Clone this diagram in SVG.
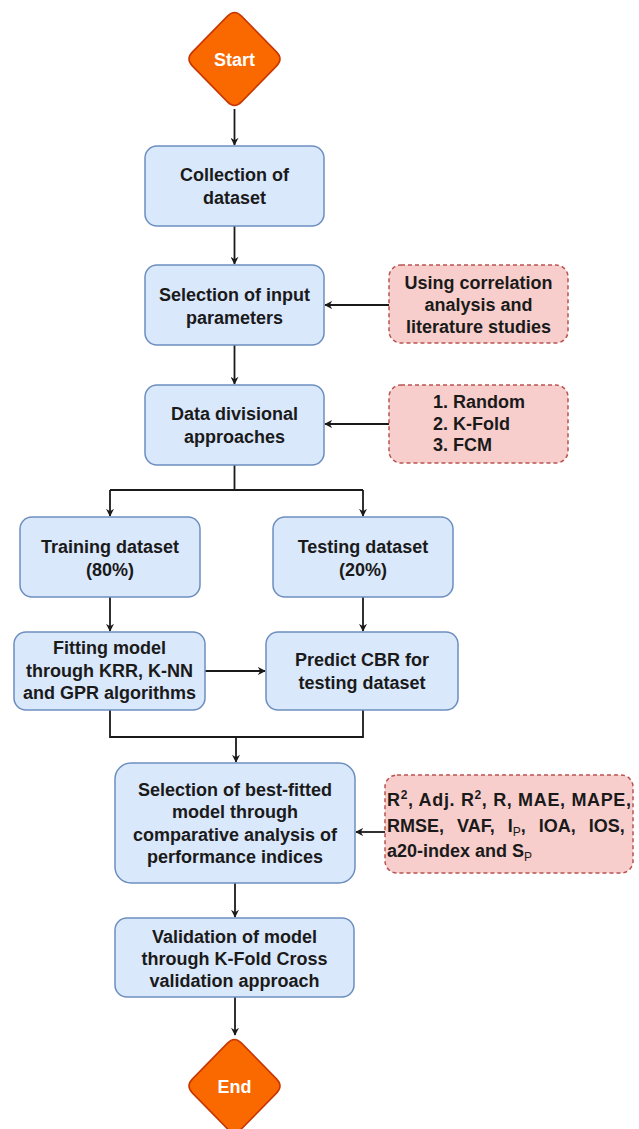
<svg xmlns="http://www.w3.org/2000/svg" width="639" height="1129" viewBox="0 0 639 1129">
<style>
.bg{fill:#ffffff}
.box{fill:#dae8fc;stroke:#6c8ebf;stroke-width:1.5}
.note{fill:#f8cecc;stroke:#b85450;stroke-width:1.5;stroke-dasharray:4 3}
.term{fill:#fa6800;stroke:#c73500;stroke-width:1.5}
.t{font-family:"Liberation Sans",Arial,sans-serif;font-size:18px;font-weight:bold;fill:#1a1a1a;text-anchor:middle}
.tl{font-family:"Liberation Sans",Arial,sans-serif;font-size:18px;font-weight:bold;fill:#1a1a1a;text-anchor:start}
.tw{font-family:"Liberation Sans",Arial,sans-serif;font-size:18px;font-weight:bold;fill:#ffffff;text-anchor:middle}
.c{fill:none;stroke:#1a1a1a;stroke-width:1.8}
.sub{font-size:12px;font-weight:normal}
.sup{font-size:12px}
</style>
<defs>
<marker id="ah" viewBox="0 0 10 10" refX="9" refY="5" markerWidth="8" markerHeight="8" orient="auto" markerUnits="userSpaceOnUse">
<path d="M0,0 L10,5 L0,10 L3,5 z" fill="#1a1a1a"/>
</marker>
<path id="dia" d="M-7,-42.86 Q0,-50 7,-42.86 L42,-7.14 Q49,0 42,7.14 L7,42.86 Q0,50 -7,42.86 L-42,7.14 Q-49,0 -42,-7.14 Z"/>
</defs>
<rect class="bg" x="0" y="0" width="639" height="1129"/>

<g id="connectors">
<path class="c" d="M234.5,109 L234.5,145" marker-end="url(#ah)"/>
<path class="c" d="M234.5,226 L234.5,264" marker-end="url(#ah)"/>
<path class="c" d="M389,305 L325,305" marker-end="url(#ah)"/>
<path class="c" d="M234.5,345 L234.5,384" marker-end="url(#ah)"/>
<path class="c" d="M389,424 L325,424" marker-end="url(#ah)"/>
<path class="c" d="M234.5,465 L234.5,490 M110,490 L363,490"/>
<path class="c" d="M110,490 L110,516" marker-end="url(#ah)"/>
<path class="c" d="M363,490 L363,516" marker-end="url(#ah)"/>
<path class="c" d="M110,597 L110,631" marker-end="url(#ah)"/>
<path class="c" d="M363,597 L363,631" marker-end="url(#ah)"/>
<path class="c" d="M205,671 L265,671" marker-end="url(#ah)"/>
<path class="c" d="M110,710 L110,737 L363,737 L363,710"/>
<path class="c" d="M236,737 L236,762" marker-end="url(#ah)"/>
<path class="c" d="M385,832 L356,832" marker-end="url(#ah)"/>
<path class="c" d="M235,883 L235,917" marker-end="url(#ah)"/>
<path class="c" d="M235,997 L235,1035" marker-end="url(#ah)"/>
</g>

<g id="start">
<use href="#dia" class="term" transform="translate(234.5,59)"/>
<text class="tw" x="234.5" y="66">Start</text>
</g>

<g id="collection">
<rect class="box" x="145" y="146" width="179" height="80" rx="12"/>
<text class="t" x="234.5" y="181">Collection of</text>
<text class="t" x="234.5" y="204">dataset</text>
</g>

<g id="selection-input">
<rect class="box" x="145" y="265" width="179" height="80" rx="12"/>
<text class="t" x="234.5" y="301">Selection of input</text>
<text class="t" x="234.5" y="324">parameters</text>
</g>

<g id="note-correlation">
<rect class="note" x="389" y="265" width="179" height="78" rx="12"/>
<text class="t" x="478.5" y="289">Using correlation</text>
<text class="t" x="478.5" y="311">analysis and</text>
<text class="t" x="478.5" y="333">literature studies</text>
</g>

<g id="data-division">
<rect class="box" x="145" y="385" width="179" height="80" rx="12"/>
<text class="t" x="234.5" y="420">Data divisional</text>
<text class="t" x="234.5" y="443">approaches</text>
</g>

<g id="note-division">
<rect class="note" x="389" y="385" width="179" height="78" rx="12"/>
<text class="tl" x="433" y="408">1. Random</text>
<text class="tl" x="433" y="430">2. K-Fold</text>
<text class="tl" x="433" y="451">3. FCM</text>
</g>

<g id="training">
<rect class="box" x="20" y="517" width="180" height="80" rx="12"/>
<text class="t" x="110" y="553">Training dataset</text>
<text class="t" x="110" y="576">(80%)</text>
</g>

<g id="testing">
<rect class="box" x="273" y="517" width="180" height="80" rx="12"/>
<text class="t" x="363" y="553">Testing dataset</text>
<text class="t" x="363" y="576">(20%)</text>
</g>

<g id="fitting">
<rect class="box" x="14" y="632" width="191" height="78" rx="12"/>
<text class="t" x="109.5" y="654">Fitting model</text>
<text class="t" x="109.5" y="677">through KRR, K-NN</text>
<text class="t" x="109.5" y="699">and GPR algorithms</text>
</g>

<g id="predict">
<rect class="box" x="266" y="632" width="192" height="78" rx="12"/>
<text class="t" x="362" y="666">Predict CBR for</text>
<text class="t" x="362" y="689">testing dataset</text>
</g>

<g id="selection-best">
<rect class="box" x="115" y="763" width="240" height="120" rx="16"/>
<text class="t" x="235" y="796">Selection of best-fitted</text>
<text class="t" x="235" y="818">model through</text>
<text class="t" x="235" y="841">comparative analysis of</text>
<text class="t" x="235" y="863">performance indices</text>
</g>

<g id="note-indices">
<rect class="note" x="385" y="775" width="248" height="98" rx="12"/>
<text class="tl" x="387" y="806" textLength="244" lengthAdjust="spacing">R<tspan class="sup" dy="-7">2</tspan><tspan dy="7">, Adj. R</tspan><tspan class="sup" dy="-7">2</tspan><tspan dy="7">, R, MAE, MAPE,</tspan></text>
<text class="tl" x="387" y="832" word-spacing="8">RMSE, VAF, I<tspan class="sub" dy="4">P</tspan><tspan dy="-4">, IOA, IOS,</tspan></text>
<text class="tl" x="387" y="857">a20-index and S<tspan class="sub" dy="4">P</tspan></text>
</g>

<g id="validation">
<rect class="box" x="115" y="918" width="239" height="79" rx="12"/>
<text class="t" x="234.5" y="943">Validation of model</text>
<text class="t" x="234.5" y="965">through K-Fold Cross</text>
<text class="t" x="234.5" y="987">validation approach</text>
</g>

<g id="end">
<use href="#dia" class="term" transform="translate(234.5,1086)"/>
<text class="tw" x="234.5" y="1093">End</text>
</g>
</svg>
